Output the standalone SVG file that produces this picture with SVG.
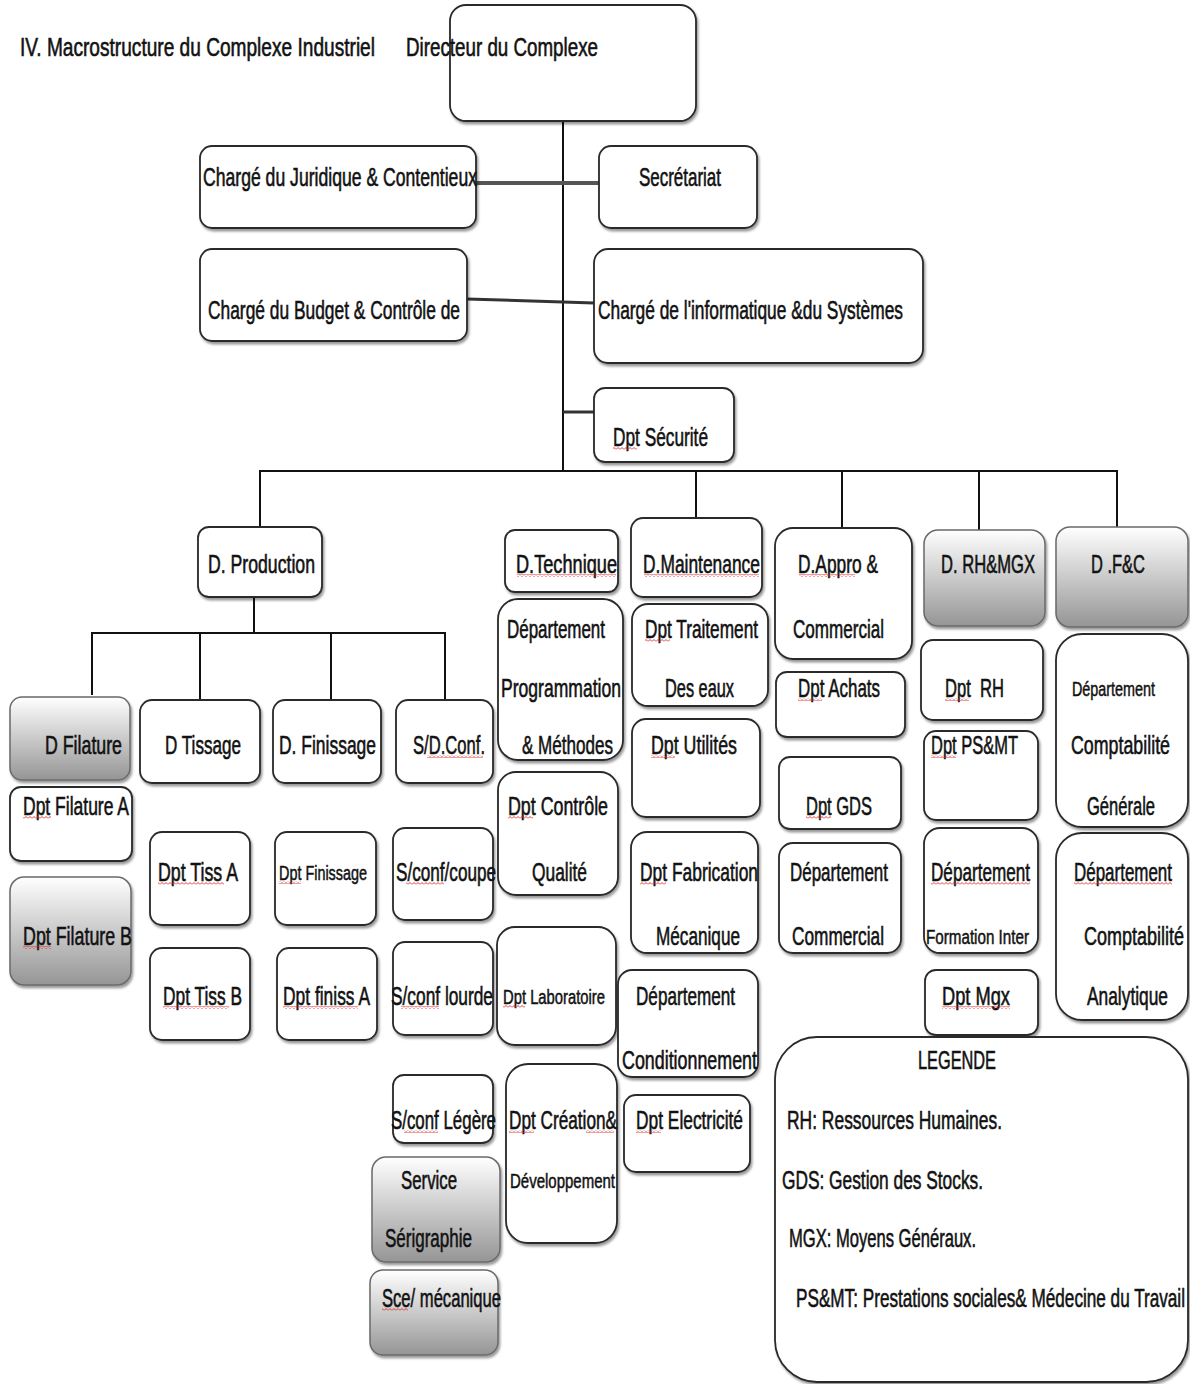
<svg xmlns="http://www.w3.org/2000/svg" width="1190" height="1384" viewBox="0 0 1190 1384">
<defs>
<style>
.b{fill:#fff;stroke:#2a2a2a;stroke-width:1.8;filter:url(#sh)}
.g{fill:url(#gr);stroke:#6a6a6a;stroke-width:1.5;filter:url(#sh)}
.t{font-family:"Liberation Sans Narrow","Liberation Sans",Arial,sans-serif;font-size:26px;fill:#121212;stroke:#121212;stroke-width:0.6px}
.s{font-size:20px;stroke-width:0.5px}
.c{stroke:#111;stroke-width:2;fill:none}
.sq{fill:url(#sq)}
</style>
<filter id="sh" x="-10%" y="-10%" width="130%" height="130%">
<feDropShadow dx="1.5" dy="2.5" stdDeviation="1.2" flood-color="#000" flood-opacity="0.4"/>
</filter>
<linearGradient id="gr" x1="0" y1="0" x2="0" y2="1">
<stop offset="0" stop-color="#ffffff"/>
<stop offset="1" stop-color="#959595"/>
</linearGradient>
<pattern id="sq" width="4" height="3" patternUnits="userSpaceOnUse">
<path d="M0 2.5 L2 0.5 L4 2.5" stroke="#e02020" stroke-width="0.9" fill="none"/>
</pattern>
</defs>
<rect width="1190" height="1384" fill="#fff"/>

<g id="title">
<text class="t" x="20" y="56" textLength="355" lengthAdjust="spacingAndGlyphs">IV. Macrostructure du Complexe Industriel</text>
</g>

<g id="connectors">
<line class="c" x1="563" y1="121" x2="563" y2="471"/>
<line x1="476" y1="183" x2="599" y2="183" stroke="#555" stroke-width="4"/>
<line x1="467" y1="299" x2="594" y2="303" stroke="#333" stroke-width="3"/>
<line x1="563" y1="412" x2="594" y2="412" stroke="#333" stroke-width="3"/>
<polyline class="c" points="260,527 260,471 1117,471 1117,527"/>
<line class="c" x1="696" y1="471" x2="696" y2="518"/>
<line class="c" x1="842" y1="471" x2="842" y2="530"/>
<line class="c" x1="979" y1="471" x2="979" y2="530"/>
<line class="c" x1="254" y1="597" x2="254" y2="633"/>
<polyline class="c" points="92,695 92,633 445,633 445,700"/>
<line class="c" x1="200" y1="633" x2="200" y2="700"/>
<line class="c" x1="331" y1="633" x2="331" y2="700"/>
</g>

<g id="directeur">
<rect class="b" x="450" y="5" width="246" height="116" rx="16"/>
<text class="t" x="406" y="56" textLength="192" lengthAdjust="spacingAndGlyphs">Directeur du Complexe</text>
</g>
<g id="juridique">
<rect class="b" x="200" y="146" width="276" height="82" rx="12"/>
<text class="t" x="203" y="186" textLength="274" lengthAdjust="spacingAndGlyphs">Chargé du Juridique &amp; Contentieux</text>
</g>
<g id="secretariat">
<rect class="b" x="599" y="146" width="158" height="82" rx="12"/>
<text class="t" x="639" y="186" textLength="82" lengthAdjust="spacingAndGlyphs">Secrétariat</text>
</g>
<g id="budget">
<rect class="b" x="200" y="249" width="267" height="92" rx="12"/>
<text class="t" x="208" y="319" textLength="252" lengthAdjust="spacingAndGlyphs">Chargé du Budget &amp; Contrôle de</text>
</g>
<g id="informatique">
<rect class="b" x="594" y="249" width="329" height="114" rx="14"/>
<text class="t" x="598" y="319" textLength="305" lengthAdjust="spacingAndGlyphs">Chargé de l'informatique &amp;du Systèmes</text>
</g>
<g id="securite">
<rect class="b" x="594" y="388" width="140" height="74" rx="11"/>
<text class="t" x="613" y="446" textLength="95" lengthAdjust="spacingAndGlyphs">Dpt Sécurité</text>
</g>

<g id="d-production">
<rect class="b" x="198" y="527" width="124" height="70" rx="11"/>
<text class="t" x="208" y="573" textLength="107" lengthAdjust="spacingAndGlyphs">D. Production</text>
</g>
<g id="d-technique">
<rect class="b" x="505" y="530" width="113" height="62" rx="10"/>
<text class="t" x="516" y="573" textLength="101" lengthAdjust="spacingAndGlyphs">D.Technique</text>
</g>
<g id="d-maintenance">
<rect class="b" x="631" y="518" width="131" height="79" rx="12"/>
<text class="t" x="643" y="573" textLength="117" lengthAdjust="spacingAndGlyphs">D.Maintenance</text>
</g>
<g id="d-appro">
<rect class="b" x="775" y="528" width="137" height="131" rx="18"/>
<text class="t" x="798" y="573" textLength="80" lengthAdjust="spacingAndGlyphs">D.Appro &amp;</text>
<text class="t" x="793" y="638" textLength="91" lengthAdjust="spacingAndGlyphs">Commercial</text>
</g>
<g id="d-rh">
<rect class="g" x="924" y="530" width="121" height="96" rx="14"/>
<text class="t" x="941" y="573" textLength="94" lengthAdjust="spacingAndGlyphs">D. RH&amp;MGX</text>
</g>
<g id="d-fc">
<rect class="g" x="1056" y="527" width="132" height="100" rx="14"/>
<text class="t" x="1091" y="573" textLength="54" lengthAdjust="spacingAndGlyphs">D .F&amp;C</text>
</g>

<g id="d-filature">
<rect class="g" x="10" y="697" width="120" height="83" rx="12"/>
<text class="t" x="45" y="754" textLength="77" lengthAdjust="spacingAndGlyphs">D Filature</text>
</g>
<g id="d-tissage">
<rect class="b" x="140" y="700" width="120" height="83" rx="12"/>
<text class="t" x="165" y="754" textLength="76" lengthAdjust="spacingAndGlyphs">D Tissage</text>
</g>
<g id="d-finissage">
<rect class="b" x="273" y="700" width="108" height="83" rx="12"/>
<text class="t" x="279" y="754" textLength="97" lengthAdjust="spacingAndGlyphs">D. Finissage</text>
</g>
<g id="sd-conf">
<rect class="b" x="396" y="700" width="97" height="83" rx="12"/>
<text class="t" x="413" y="754" textLength="72" lengthAdjust="spacingAndGlyphs">S/D.Conf.</text>
</g>

<g id="dpt-filature-a">
<rect class="b" x="10" y="787" width="122" height="74" rx="11"/>
<text class="t" x="23" y="815" textLength="106" lengthAdjust="spacingAndGlyphs">Dpt Filature A</text>
</g>
<g id="dpt-filature-b">
<rect class="g" x="10" y="877" width="121" height="108" rx="14"/>
<text class="t" x="23" y="945" textLength="109" lengthAdjust="spacingAndGlyphs">Dpt Filature B</text>
</g>
<g id="dpt-tiss-a">
<rect class="b" x="150" y="832" width="100" height="93" rx="12"/>
<text class="t" x="158" y="881" textLength="80" lengthAdjust="spacingAndGlyphs">Dpt Tiss A</text>
</g>
<g id="dpt-finissage">
<rect class="b" x="275" y="832" width="101" height="93" rx="12"/>
<text class="t s" x="279" y="880" textLength="88" lengthAdjust="spacingAndGlyphs">Dpt Finissage</text>
</g>
<g id="sconf-coupe">
<rect class="b" x="393" y="828" width="100" height="92" rx="12"/>
<text class="t" x="396" y="881" textLength="100" lengthAdjust="spacingAndGlyphs">S/conf/coupe</text>
</g>
<g id="dpt-tiss-b">
<rect class="b" x="150" y="948" width="100" height="92" rx="12"/>
<text class="t" x="163" y="1005" textLength="79" lengthAdjust="spacingAndGlyphs">Dpt Tiss B</text>
</g>
<g id="dpt-finiss-a">
<rect class="b" x="277" y="948" width="100" height="92" rx="12"/>
<text class="t" x="283" y="1005" textLength="87" lengthAdjust="spacingAndGlyphs">Dpt finiss A</text>
</g>
<g id="sconf-lourde">
<rect class="b" x="393" y="942" width="100" height="93" rx="12"/>
<text class="t" x="391" y="1005" textLength="102" lengthAdjust="spacingAndGlyphs">S/conf lourde</text>
</g>
<g id="sconf-legere">
<rect class="b" x="393" y="1075" width="100" height="68" rx="11"/>
<text class="t" x="391" y="1129" textLength="105" lengthAdjust="spacingAndGlyphs">S/conf Légère</text>
</g>
<g id="serigraphie">
<rect class="g" x="372" y="1157" width="128" height="105" rx="14"/>
<text class="t" x="401" y="1189" textLength="56" lengthAdjust="spacingAndGlyphs">Service</text>
<text class="t" x="385" y="1247" textLength="87" lengthAdjust="spacingAndGlyphs">Sérigraphie</text>
</g>
<g id="sce-mecanique">
<rect class="g" x="370" y="1270" width="128" height="85" rx="13"/>
<text class="t" x="382" y="1307" textLength="119" lengthAdjust="spacingAndGlyphs">Sce/ mécanique</text>
</g>

<g id="dpt-programmation">
<rect class="b" x="498" y="599" width="125" height="161" rx="20"/>
<text class="t" x="507" y="638" textLength="98" lengthAdjust="spacingAndGlyphs">Département</text>
<text class="t" x="501" y="697" textLength="120" lengthAdjust="spacingAndGlyphs">Programmation</text>
<text class="t" x="522" y="754" textLength="91" lengthAdjust="spacingAndGlyphs">&amp; Méthodes</text>
</g>
<g id="dpt-controle">
<rect class="b" x="498" y="772" width="120" height="123" rx="18"/>
<text class="t" x="508" y="815" textLength="100" lengthAdjust="spacingAndGlyphs">Dpt Contrôle</text>
<text class="t" x="532" y="881" textLength="55" lengthAdjust="spacingAndGlyphs">Qualité</text>
</g>
<g id="dpt-laboratoire">
<rect class="b" x="497" y="927" width="119" height="118" rx="18"/>
<text class="t s" x="503" y="1004" textLength="102" lengthAdjust="spacingAndGlyphs">Dpt Laboratoire</text>
</g>
<g id="dpt-creation">
<rect class="b" x="506" y="1064" width="111" height="179" rx="22"/>
<text class="t" x="509" y="1129" textLength="108" lengthAdjust="spacingAndGlyphs">Dpt Création&amp;</text>
<text class="t s" x="510" y="1188" textLength="105" lengthAdjust="spacingAndGlyphs">Développement</text>
</g>

<g id="dpt-traitement">
<rect class="b" x="632" y="604" width="136" height="102" rx="16"/>
<text class="t" x="645" y="638" textLength="113" lengthAdjust="spacingAndGlyphs">Dpt Traitement</text>
<text class="t" x="665" y="697" textLength="69" lengthAdjust="spacingAndGlyphs">Des eaux</text>
</g>
<g id="dpt-utilites">
<rect class="b" x="632" y="719" width="128" height="98" rx="14"/>
<text class="t" x="651" y="754" textLength="86" lengthAdjust="spacingAndGlyphs">Dpt Utilités</text>
</g>
<g id="dpt-fabrication">
<rect class="b" x="631" y="832" width="127" height="121" rx="16"/>
<text class="t" x="640" y="881" textLength="118" lengthAdjust="spacingAndGlyphs">Dpt Fabrication</text>
<text class="t" x="656" y="945" textLength="84" lengthAdjust="spacingAndGlyphs">Mécanique</text>
</g>
<g id="dpt-conditionnement">
<rect class="b" x="618" y="970" width="140" height="107" rx="14"/>
<text class="t" x="636" y="1005" textLength="99" lengthAdjust="spacingAndGlyphs">Département</text>
<text class="t" x="622" y="1069" textLength="135" lengthAdjust="spacingAndGlyphs">Conditionnement</text>
</g>
<g id="dpt-electricite">
<rect class="b" x="624" y="1095" width="126" height="77" rx="12"/>
<text class="t" x="636" y="1129" textLength="107" lengthAdjust="spacingAndGlyphs">Dpt Electricité</text>
</g>

<g id="dpt-achats">
<rect class="b" x="776" y="672" width="129" height="65" rx="11"/>
<text class="t" x="798" y="697" textLength="82" lengthAdjust="spacingAndGlyphs">Dpt Achats</text>
</g>
<g id="dpt-gds">
<rect class="b" x="779" y="757" width="122" height="72" rx="11"/>
<text class="t" x="806" y="815" textLength="66" lengthAdjust="spacingAndGlyphs">Dpt GDS</text>
</g>
<g id="dpt-commercial">
<rect class="b" x="779" y="843" width="122" height="110" rx="14"/>
<text class="t" x="790" y="881" textLength="98" lengthAdjust="spacingAndGlyphs">Département</text>
<text class="t" x="792" y="945" textLength="92" lengthAdjust="spacingAndGlyphs">Commercial</text>
</g>

<g id="dpt-rh">
<rect class="b" x="921" y="640" width="122" height="80" rx="12"/>
<text class="t" x="945" y="697" textLength="59" lengthAdjust="spacingAndGlyphs" xml:space="preserve">Dpt  RH</text>
</g>
<g id="dpt-psmt">
<rect class="b" x="924" y="731" width="114" height="89" rx="12"/>
<text class="t" x="931" y="754" textLength="87" lengthAdjust="spacingAndGlyphs">Dpt PS&amp;MT</text>
</g>
<g id="dpt-formation">
<rect class="b" x="924" y="828" width="114" height="125" rx="16"/>
<text class="t" x="931" y="881" textLength="99" lengthAdjust="spacingAndGlyphs">Département</text>
<text class="t s" x="926" y="944" textLength="103" lengthAdjust="spacingAndGlyphs">Formation Inter</text>
</g>
<g id="dpt-mgx">
<rect class="b" x="925" y="970" width="113" height="65" rx="11"/>
<text class="t" x="942" y="1005" textLength="68" lengthAdjust="spacingAndGlyphs">Dpt Mgx</text>
</g>

<g id="dpt-compta-generale">
<rect class="b" x="1056" y="634" width="132" height="193" rx="26"/>
<text class="t s" x="1072" y="696" textLength="83" lengthAdjust="spacingAndGlyphs">Département</text>
<text class="t" x="1071" y="754" textLength="99" lengthAdjust="spacingAndGlyphs">Comptabilité</text>
<text class="t" x="1087" y="815" textLength="68" lengthAdjust="spacingAndGlyphs">Générale</text>
</g>
<g id="dpt-compta-analytique">
<rect class="b" x="1056" y="833" width="132" height="187" rx="26"/>
<text class="t" x="1074" y="881" textLength="98" lengthAdjust="spacingAndGlyphs">Département</text>
<text class="t" x="1084" y="945" textLength="100" lengthAdjust="spacingAndGlyphs">Comptabilité</text>
<text class="t" x="1087" y="1005" textLength="81" lengthAdjust="spacingAndGlyphs">Analytique</text>
</g>

<g id="legende">
<rect class="b" x="775" y="1037" width="413" height="345" rx="42"/>
<text class="t" x="918" y="1069" textLength="78" lengthAdjust="spacingAndGlyphs">LEGENDE</text>
<text class="t" x="787" y="1129" textLength="215" lengthAdjust="spacingAndGlyphs">RH: Ressources Humaines.</text>
<text class="t" x="782" y="1189" textLength="201" lengthAdjust="spacingAndGlyphs">GDS: Gestion des Stocks.</text>
<text class="t" x="789" y="1247" textLength="187" lengthAdjust="spacingAndGlyphs">MGX: Moyens Généraux.</text>
<text class="t" x="796" y="1307" textLength="389" lengthAdjust="spacingAndGlyphs">PS&amp;MT: Prestations sociales&amp; Médecine du Travail</text>
</g>

<g id="spellcheck">
<rect class="sq" x="613" y="447" width="24" height="3"/>
<rect class="sq" x="427" y="755" width="56" height="3"/>
<rect class="sq" x="517" y="574" width="99" height="3"/>
<rect class="sq" x="644" y="574" width="115" height="3"/>
<rect class="sq" x="799" y="574" width="56" height="3"/>
<rect class="sq" x="645" y="639" width="25" height="3"/>
<rect class="sq" x="798" y="698" width="24" height="3"/>
<rect class="sq" x="945" y="698" width="24" height="3"/>
<rect class="sq" x="651" y="755" width="24" height="3"/>
<rect class="sq" x="931" y="755" width="25" height="3"/>
<rect class="sq" x="23" y="816" width="28" height="3"/>
<rect class="sq" x="508" y="816" width="25" height="3"/>
<rect class="sq" x="806" y="816" width="25" height="3"/>
<rect class="sq" x="158" y="882" width="66" height="3"/>
<rect class="sq" x="279" y="881" width="22" height="3"/>
<rect class="sq" x="406" y="882" width="38" height="3"/>
<rect class="sq" x="640" y="882" width="26" height="3"/>
<rect class="sq" x="931" y="882" width="99" height="3"/>
<rect class="sq" x="1074" y="882" width="98" height="3"/>
<rect class="sq" x="23" y="946" width="28" height="3"/>
<rect class="sq" x="163" y="1006" width="66" height="3"/>
<rect class="sq" x="283" y="1006" width="75" height="3"/>
<rect class="sq" x="401" y="1006" width="38" height="3"/>
<rect class="sq" x="503" y="1005" width="22" height="3"/>
<rect class="sq" x="942" y="1006" width="68" height="3"/>
<rect class="sq" x="404" y="1130" width="34" height="3"/>
<rect class="sq" x="509" y="1130" width="25" height="3"/>
<rect class="sq" x="586" y="1130" width="28" height="3"/>
<rect class="sq" x="636" y="1130" width="25" height="3"/>
<rect class="sq" x="382" y="1308" width="26" height="3"/>
</g>
</svg>
